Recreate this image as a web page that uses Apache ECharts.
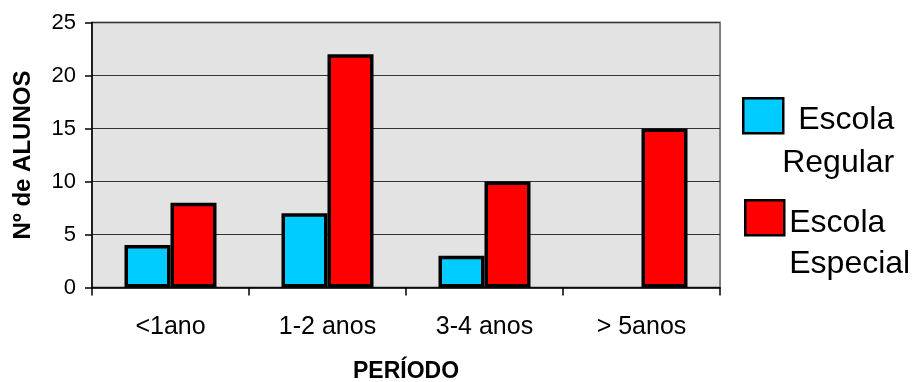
<!DOCTYPE html>
<html>
<head>
<meta charset="utf-8">
<script src="https://cdn.jsdelivr.net/npm/echarts@6/dist/echarts.min.js"></script>
<style>html,body{margin:0;padding:0;background:#fff;}#c{width:914px;height:382px;}</style>
</head>
<body>
<div id="c"></div>
<script>
var categories = ['<1ano', '1-2 anos', '3-4 anos', '> 5anos'];
var regular = [4, 7, 3, 0];
var especial = [8, 22, 10, 15];
var yTicks = [0, 5, 10, 15, 20, 25];
var seriesNames = ['Escola Regular', 'Escola Especial'];

var font = 'Liberation Sans, Arial, sans-serif';
function toItems(arr) {
  return arr.map(function (v) {
    return v === 0 ? {value: v, itemStyle: {borderWidth: 0}} : v;
  });
}
var chart = echarts.init(document.getElementById('c'), null, {renderer: 'canvas'});
chart.setOption({
  animation: false,
  backgroundColor: '#ffffff',
  grid: {left: 92, right: 194, top: 22.5, bottom: 94.5, show: true, containLabel: false,
         outerBoundsMode: 'none',
         backgroundColor: '#e3e3e3', borderColor: '#808080', borderWidth: 2},
  legend: [
    {data: [seriesNames[0]], left: 742, top: 97, padding: 0, itemWidth: 40, itemHeight: 35, orient: 'vertical',
     icon: 'rect', itemStyle: {borderColor: '#000', borderWidth: 2.5},
     formatter: function(){ return '{a|Escola}\n{a|Regular}'; },
     textStyle: {fontFamily: font, fontSize: 32, color: '#000', padding: [51, 0, 0, 0],
       rich: {a: {fontFamily: font, fontSize: 32, lineHeight: 43, align: 'right', width: 106}}}},
    {data: [seriesNames[1]], left: 744, top: 199, padding: 0, itemWidth: 39, itemHeight: 35, orient: 'vertical',
     icon: 'rect', itemStyle: {borderColor: '#000', borderWidth: 2.5},
     formatter: function(){ return '{a|Escola}\n{a|Especial}'; },
     textStyle: {fontFamily: font, fontSize: 32, color: '#000', padding: [52, 0, 0, 0],
       rich: {a: {fontFamily: font, fontSize: 32, lineHeight: 41, align: 'left'}}}}
  ],
  xAxis: {
    type: 'category', data: categories,
    name: 'PERÍODO', nameLocation: 'middle', nameGap: 73,
    nameTextStyle: {fontFamily: font, fontSize: 23, fontWeight: 'bold', color: '#000'},
    axisLine: {lineStyle: {color: '#000', width: 1.5}},
    axisTick: {show: true, length: 8, lineStyle: {color: '#000', width: 1.5}},
    axisLabel: {fontFamily: font, fontSize: 25, color: '#000', margin: 27}
  },
  yAxis: {
    type: 'value', min: 0, max: 25, interval: 5,
    name: 'Nº de ALUNOS', nameLocation: 'middle', nameGap: 57,
    nameTextStyle: {fontFamily: font, fontSize: 24, fontWeight: 'bold', color: '#000'},
    axisLine: {show: true, lineStyle: {color: '#000', width: 1.5}},
    axisTick: {show: true, length: 7, lineStyle: {color: '#000', width: 1.5}},
    axisLabel: {fontFamily: font, fontSize: 22, color: '#000', margin: 16,
      formatter: function(v){ return yTicks.indexOf(v) >= 0 ? String(v) : ''; }},
    splitLine: {show: true, lineStyle: {color: '#333', width: 1}}
  },
  series: [
    {name: seriesNames[0], type: 'bar', data: toItems(regular), barWidth: 46, barGap: '0%',
     itemStyle: {color: '#00ccff', borderColor: '#000', borderWidth: 3.5}},
    {name: seriesNames[1], type: 'bar', data: toItems(especial), barWidth: 46, barGap: '0%',
     itemStyle: {color: '#ff0000', borderColor: '#000', borderWidth: 3.5}}
  ]
});
</script>
</body>
</html>
